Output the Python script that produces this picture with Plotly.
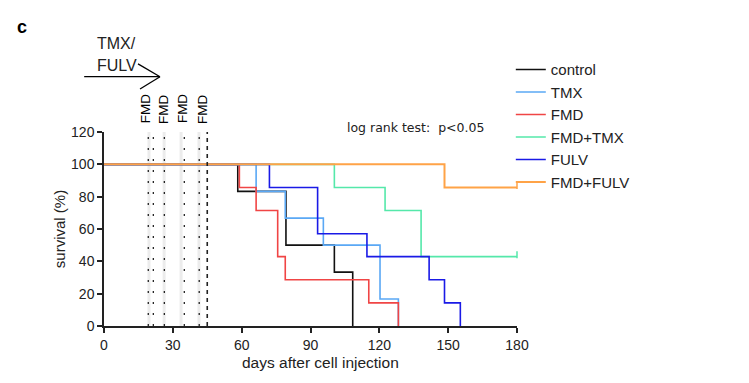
import plotly.graph_objects as go

# ---- data ----
series_names = ["control", "TMX", "FMD", "FMD+TMX", "FULV", "FMD+FULV"]
control_t = [0, 58.3, 79.3, 100.4, 108.4]
control_s = [100, 83.3, 50.0, 33.3, 0]
tmx_t = [0, 66.3, 79.0, 95.6, 120.3, 128.3]
tmx_s = [100, 83.3, 66.7, 50.0, 16.7, 0]
fmd_t = [0, 59.0, 66.3, 75.7, 79.0, 115.4, 128.3]
fmd_s = [100, 85.7, 71.4, 42.9, 28.6, 14.3, 0]
fmdtmx_t = [0, 100.4, 122.5, 138.2, 180]
fmdtmx_s = [100, 85.7, 71.4, 42.9, 42.9]
fulv_t = [0, 72.1, 93.1, 114.6, 141.7, 148.4, 155.3]
fulv_s = [100, 85.7, 57.1, 42.9, 28.6, 14.3, 0]
fmdfulv_t = [0, 148.4, 180]
fmdfulv_s = [100, 85.7, 85.7]
censored = {"FMD+TMX": (180, 42.9), "FMD+FULV": (180, 85.7)}

colors = ["#111111", "#5aa8f5", "#f04545", "#55e8aa", "#1a1ae6", "#ffa347"]
widths = [1.6, 1.6, 1.6, 1.6, 1.6, 2.0]

fmd_label_days = [17.9, 25.7, 34.0, 42.7]
fmd_dotted_days = [19.3, 21.5, 26.3, 35.0, 41.5]
fmd_dashed_day = 45.0
fmd_band_days = [19.6, 26.2, 33.6, 41.4]

x_ticks = [0, 30, 60, 90, 120, 150, 180]
y_ticks = [0, 20, 40, 60, 80, 100, 120]

FONT = "Liberation Sans, Arial, sans-serif"

fig = go.Figure()

all_t = [control_t, tmx_t, fmd_t, fmdtmx_t, fulv_t, fmdfulv_t]
all_s = [control_s, tmx_s, fmd_s, fmdtmx_s, fulv_s, fmdfulv_s]
for name, t, s, c, w in zip(series_names, all_t, all_s, colors, widths):
    fig.add_trace(go.Scatter(x=t, y=s, mode="lines", name=name, legendgroup=name,
                             line=dict(color=c, width=w, shape="hv")))
for name, c in zip(series_names, colors):
    if name in censored:
        cx, cy = censored[name]
        fig.add_trace(go.Scatter(x=[cx], y=[cy + 1.2], mode="markers", showlegend=False,
                                 marker=dict(symbol="line-ns", size=5,
                                             line=dict(color=c, width=1.5)),
                                 cliponaxis=False, hoverinfo="skip"))

shapes = []
for d in fmd_band_days:
    shapes.append(dict(type="line", xref="x", yref="y", x0=d, x1=d, y0=0, y1=120,
                       line=dict(color="#ececec", width=3), layer="below"))
for d in fmd_dotted_days:
    shapes.append(dict(type="line", xref="x", yref="y", x0=d, x1=d, y0=0, y1=120,
                       line=dict(color="#222222", width=1.3, dash="2px,9px"), layer="above"))
shapes.append(dict(type="line", xref="x", yref="y", x0=fmd_dashed_day, x1=fmd_dashed_day,
                   y0=0, y1=120, line=dict(color="#222222", width=1.6, dash="4px,4px")))
# arrow TMX/FULV
shapes.append(dict(type="line", xref="paper", yref="paper", x0=-0.048, x1=0.1356,
                   y0=1.285, y1=1.285, line=dict(color="black", width=1.3)))
shapes.append(dict(type="line", xref="paper", yref="paper", x0=0.0823, x1=0.1356,
                   y0=1.351, y1=1.285, line=dict(color="black", width=1.3)))
shapes.append(dict(type="line", xref="paper", yref="paper", x0=0.0872, x1=0.1356,
                   y0=1.222, y1=1.285, line=dict(color="black", width=1.3)))

annotations = []
for d in fmd_label_days:
    annotations.append(dict(x=d, y=1.118, xref="x", yref="paper", text="FMD", textangle=-90,
                            yanchor="middle", showarrow=False,
                            font=dict(family=FONT, size=13.5, color="black")))
annotations.append(dict(x=-0.022, y=1.454, xref="paper", yref="paper", text="TMX/",
                        xanchor="left", yanchor="middle", showarrow=False,
                        font=dict(family=FONT, size=16, color="#222")))
annotations.append(dict(x=-0.022, y=1.342, xref="paper", yref="paper", text="FULV",
                        xanchor="left", yanchor="middle", showarrow=False,
                        font=dict(family=FONT, size=16, color="#222")))
annotations.append(dict(x=105.0, y=1.021, xref="x", yref="paper", text="log rank test:  p<0.05",
                        xanchor="left", yanchor="middle", showarrow=False,
                        font=dict(family="DejaVu Sans, sans-serif", size=12.5, color="#222")))
annotations.append(dict(x=-0.215, y=1.54, xref="paper", yref="paper", text="<b>c</b>",
                        xanchor="left", yanchor="middle", showarrow=False,
                        font=dict(family=FONT, size=18, color="black")))
annotations.append(dict(x=0.525, y=-0.188, xref="paper", yref="paper",
                        text="days after cell injection",
                        xanchor="center", yanchor="middle", showarrow=False,
                        font=dict(family=FONT, size=15.5, color="#222")))

fig.update_layout(
    width=749, height=383,
    margin=dict(l=96, r=240, t=124, b=65),
    paper_bgcolor="white", plot_bgcolor="white",
    font=dict(family=FONT, size=14, color="#222"),
    shapes=shapes, annotations=annotations,
    showlegend=True,
    legend=dict(x=0.985, y=1.406, xanchor="left", yanchor="top", itemwidth=30,
                font=dict(family=FONT, size=15, color="#222"), tracegroupgap=0,
                bgcolor="rgba(0,0,0,0)"),
    xaxis=dict(range=[0, 180], tickvals=x_ticks, ticktext=[str(v) for v in x_ticks],
               showgrid=False, zeroline=False, showline=True, linecolor="#222", linewidth=1.5,
               ticks="outside", ticklen=5, tickwidth=1.5, tickcolor="#222",
               tickfont=dict(size=14)),
    yaxis=dict(range=[0, 120], tickvals=y_ticks, ticktext=[str(v) for v in y_ticks],
               showgrid=False, zeroline=False, showline=True, linecolor="#222", linewidth=1.5,
               ticks="outside", ticklen=5, tickwidth=1.5, tickcolor="#222",
               tickfont=dict(size=14),
               title=dict(text="survival (%)", font=dict(size=15), standoff=2)),
)

fig.write_html("out.html")
